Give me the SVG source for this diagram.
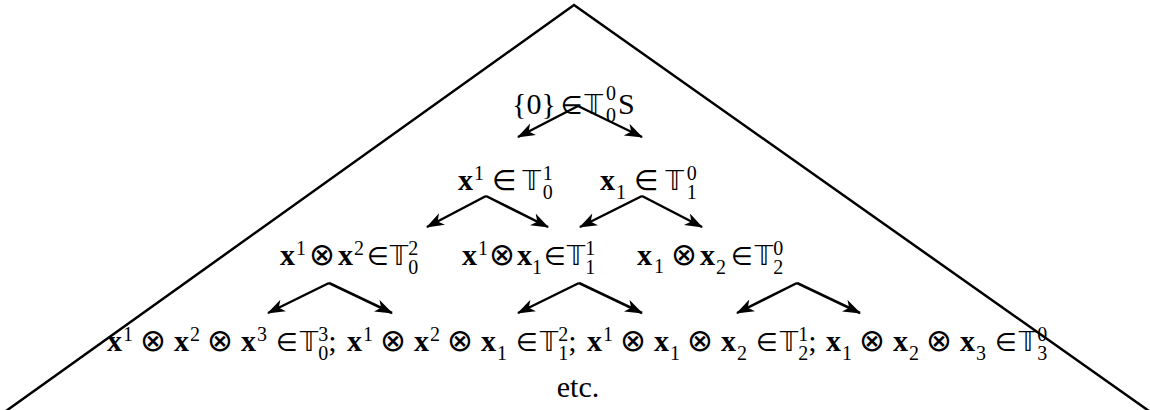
<svg xmlns="http://www.w3.org/2000/svg" width="1150" height="410" viewBox="0 0 1150 410">
<defs>
<marker id="ah" markerUnits="userSpaceOnUse" markerWidth="20" markerHeight="14" refX="17" refY="6.5" orient="auto">
<path d="M0,0 L18,6.5 L0,13 L5,6.5 Z" fill="#000"/>
</marker>
<style>
.t{font-family:"Liberation Serif","Times New Roman",serif;font-size:30px;fill:#000}
.r{font-family:"Liberation Serif","Times New Roman",serif;font-size:30px}
.b{font-family:"Liberation Serif","Times New Roman",serif;font-size:30px;font-weight:bold}
.s{font-family:"Liberation Serif","Times New Roman",serif;font-size:20px;font-weight:normal}
.o{font-family:"DejaVu Sans",sans-serif;font-size:31px}
.i{font-family:"DejaVu Sans",sans-serif;font-size:25px}
.I{font-family:"DejaVu Sans",sans-serif;font-size:28px}
.d{font-family:"DejaVu Sans",sans-serif;font-size:26px}
.e{stroke:#000;stroke-width:2.5;fill:none;marker-end:url(#ah)}
.frame{stroke:#000;stroke-width:2.5;fill:none}
</style>
</defs>
<polyline class="frame" points="6,411 574,5 1149,411"/>
<g id="n0"><text class="t" x="512" y="114"><tspan class="r">{0}</tspan><tspan class="i" font-size="27" dx="5">∈</tspan><tspan class="d" font-size="28" dx="2">𝕋</tspan><tspan class="s" dx="3" y="100">0</tspan><tspan class="s" dx="-10" y="122">0</tspan><tspan class="r" dx="2" y="114">S</tspan></text></g>
<g id="n1"><text class="t" x="458" y="190"><tspan class="b">x</tspan><tspan class="s" dx="1" y="180">1</tspan><tspan class="I" dx="8" y="190">∈</tspan><tspan class="d" dx="6">𝕋</tspan><tspan class="s" dx="2" y="180">1</tspan><tspan class="s" dx="-10" y="199">0</tspan></text></g>
<g id="n2"><text class="t" x="600" y="190"><tspan class="b">x</tspan><tspan class="s" dx="1" y="199">1</tspan><tspan class="I" dx="8" y="190">∈</tspan><tspan class="d" dx="7">𝕋</tspan><tspan class="s" dx="3" y="180">0</tspan><tspan class="s" dx="-10" y="199">1</tspan></text></g>
<g id="n3"><text class="t" x="280" y="265"><tspan class="b">x</tspan><tspan class="s" dx="1" y="255">1</tspan><tspan class="o" dx="3" y="265">⊗</tspan><tspan class="b" dx="3">x</tspan><tspan class="s" dx="1" y="255">2</tspan><tspan class="i" dx="3" y="265">∈</tspan><tspan class="d" dx="1">𝕋</tspan><tspan class="s" y="255">2</tspan><tspan class="s" dx="-10" y="274">0</tspan></text></g>
<g id="n4"><text class="t" x="462" y="265"><tspan class="b">x</tspan><tspan class="s" dx="1" y="255">1</tspan><tspan class="o" dx="1" y="265">⊗</tspan><tspan class="b" dx="2">x</tspan><tspan class="s" y="274">1</tspan><tspan class="i" dx="2" y="265">∈</tspan><tspan class="d" dx="1">𝕋</tspan><tspan class="s" y="255">1</tspan><tspan class="s" dx="-10" y="274">1</tspan></text></g>
<g id="n5"><text class="t" x="637" y="265"><tspan class="b">x</tspan><tspan class="s" font-size="13" dx="2" y="273">1</tspan><tspan class="o" dx="7" y="265">⊗</tspan><tspan class="b" dx="3">x</tspan><tspan class="s" dx="1" y="274">2</tspan><tspan class="i" dx="5" y="265">∈</tspan><tspan class="d" dx="2">𝕋</tspan><tspan class="s" y="255">0</tspan><tspan class="s" dx="-10" y="274">2</tspan></text></g>
<g id="n6"><text class="t" y="351"><tspan class="b" x="107">x</tspan><tspan class="s" dx="1" y="341">1</tspan><tspan class="o" dx="7" y="351">⊗</tspan><tspan class="b" dx="8">x</tspan><tspan class="s" dx="1" y="341">2</tspan><tspan class="o" dx="7" y="351">⊗</tspan><tspan class="b" dx="8">x</tspan><tspan class="s" dx="1" y="341">3</tspan><tspan class="i" dx="9" y="351">∈</tspan><tspan class="d" dx="2">𝕋</tspan><tspan class="s" y="341">3</tspan><tspan class="s" dx="-10" y="360">0</tspan><tspan class="r" y="351">;</tspan><tspan class="b" x="347">x</tspan><tspan class="s" dx="1" y="341">1</tspan><tspan class="o" dx="7" y="351">⊗</tspan><tspan class="b" dx="8">x</tspan><tspan class="s" dx="1" y="341">2</tspan><tspan class="o" dx="7" y="351">⊗</tspan><tspan class="b" dx="8">x</tspan><tspan class="s" dx="1" y="360">1</tspan><tspan class="i" dx="9" y="351">∈</tspan><tspan class="d" dx="2">𝕋</tspan><tspan class="s" y="341">2</tspan><tspan class="s" dx="-10" y="360">1</tspan><tspan class="r" y="351">;</tspan><tspan class="b" x="587">x</tspan><tspan class="s" dx="1" y="341">1</tspan><tspan class="o" dx="7" y="351">⊗</tspan><tspan class="b" dx="8">x</tspan><tspan class="s" dx="1" y="360">1</tspan><tspan class="o" dx="7" y="351">⊗</tspan><tspan class="b" dx="8">x</tspan><tspan class="s" dx="1" y="360">2</tspan><tspan class="i" dx="9" y="351">∈</tspan><tspan class="d" dx="2">𝕋</tspan><tspan class="s" y="341">1</tspan><tspan class="s" dx="-10" y="360">2</tspan><tspan class="r" y="351">;</tspan><tspan class="b" x="826">x</tspan><tspan class="s" dx="1" y="360">1</tspan><tspan class="o" dx="7" y="351">⊗</tspan><tspan class="b" dx="8">x</tspan><tspan class="s" dx="1" y="360">2</tspan><tspan class="o" dx="7" y="351">⊗</tspan><tspan class="b" dx="8">x</tspan><tspan class="s" dx="1" y="360">3</tspan><tspan class="i" dx="9" y="351">∈</tspan><tspan class="d" dx="2">𝕋</tspan><tspan class="s" y="341">0</tspan><tspan class="s" dx="-10" y="360">3</tspan></text></g>
<g id="n7"><text class="t" x="578" y="397" text-anchor="middle" font-size="31">etc.</text></g>
<g id="connectors">
<line class="e" x1="578" y1="106" x2="518" y2="137"/>
<line class="e" x1="578" y1="106" x2="642" y2="137"/>
<line class="e" x1="486" y1="196" x2="427" y2="227"/>
<line class="e" x1="486" y1="196" x2="548" y2="227"/>
<line class="e" x1="642" y1="196" x2="580" y2="227"/>
<line class="e" x1="642" y1="196" x2="702" y2="227"/>
<line class="e" x1="329" y1="283" x2="268" y2="313"/>
<line class="e" x1="329" y1="283" x2="392" y2="313"/>
<line class="e" x1="579" y1="283" x2="518" y2="313"/>
<line class="e" x1="579" y1="283" x2="642" y2="313"/>
<line class="e" x1="797" y1="283" x2="737" y2="313"/>
<line class="e" x1="797" y1="283" x2="860" y2="313"/>
</g>
</svg>
